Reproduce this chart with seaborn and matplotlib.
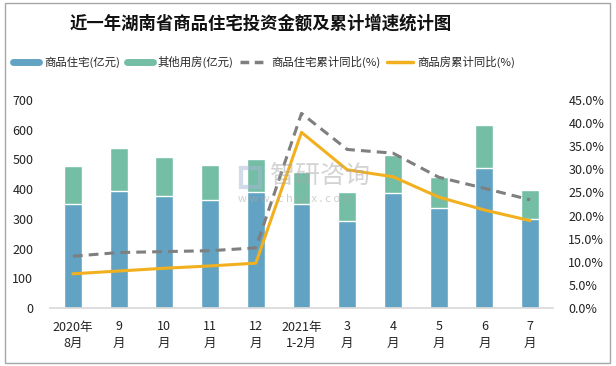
import numpy as np
import pandas as pd
import matplotlib
matplotlib.use("Agg")
import matplotlib.pyplot as plt
from matplotlib.lines import Line2D
from matplotlib.patches import Rectangle
import seaborn as sns

# data
months = ["2020年\n8月", "9\n月", "10\n月", "11\n月", "12\n月", "2021年\n1-2月",
          "3\n月", "4\n月", "5\n月", "6\n月", "7\n月"]
residential = [350, 394, 377, 363, 390, 350, 293, 387, 337, 471, 300]
total = [478, 538, 508, 481, 501, 458, 390, 515, 441, 616, 397]
other = [t - r for t, r in zip(total, residential)]
res_yoy = [11.2, 12.0, 12.2, 12.4, 13.0, 42.1, 34.3, 33.5, 28.3, 25.9, 23.4]
all_yoy = [7.4, 8.0, 8.6, 9.1, 9.7, 38.0, 29.9, 28.4, 24.0, 21.2, 18.9]

df = pd.DataFrame({"month": months, "res": residential, "other": other,
                   "total": total, "res_yoy": res_yoy, "all_yoy": all_yoy,
                   "pos": np.arange(len(months))})

sns.set_theme(style="white")
plt.rcParams["font.family"] = ["Noto Sans CJK SC", "DejaVu Sans"]

BLUE = "#62a3c3"
GREEN = "#74bea6"
GRAY = "#7f7f7f"
GOLD = "#f2b01e"

fig = plt.figure(figsize=(6.16, 3.66), dpi=100)
ax = fig.add_axes([50 / 616, 1 - 308 / 366, 503 / 616, 208 / 366])

# stacked bars: total in green, residential drawn over it
sns.barplot(data=df, x="month", y="total", color=GREEN, width=0.39,
            saturation=1, ax=ax)
sns.barplot(data=df, x="month", y="res", color=BLUE, width=0.39,
            saturation=1, ax=ax)
ax.set_xlim(-0.5, len(months) - 0.5)
ax.set_ylim(0, 700)
ax.set_yticks(range(0, 701, 100))
ax.set_xlabel("")
ax.set_ylabel("")
ax.tick_params(axis="both", labelsize=9, length=0, colors="#222222")
ax.tick_params(axis="x", pad=9)
ax.tick_params(axis="y", pad=12)
for s in ["top", "left", "right"]:
    ax.spines[s].set_visible(False)
ax.spines["bottom"].set_color("#d9d9d9")
for lab in ax.get_xticklabels():
    lab.set_linespacing(1.35)

ax2 = ax.twinx()
sns.lineplot(data=df, x="pos", y="res_yoy", color=GRAY, lw=2.2,
             dashes=False, ax=ax2)
ax2.lines[-1].set_dashes([3.2, 2.0])
sns.lineplot(data=df, x="pos", y="all_yoy", color=GOLD, lw=2.2, ax=ax2)
ax2.set_ylim(0, 45)
ax2.set_yticks(np.arange(0, 46, 5))
ax2.set_yticklabels([f"{v:.1f}%" for v in np.arange(0, 46, 5)])
ax2.set_xlabel("")
ax2.set_ylabel("")
ax2.tick_params(axis="y", labelsize=9, length=0, colors="#222222", pad=11)
for s in ax2.spines.values():
    s.set_visible(False)
ax2.set_xlim(-0.5, len(months) - 0.5)

# watermark
fig.text(270 / 616, 1 - 176 / 366, "智研咨询", fontsize=18, color="#a8a8a8",
         alpha=0.5, ha="left", va="center")
fig.text(238 / 616, 1 - 199 / 366, "w w w . c h y x x . c o m", fontsize=8,
         color="#a8a8a8", alpha=0.55, ha="left", va="center")
fig.patches.append(Rectangle((241 / 616, 1 - 187 / 366), 19 / 616, 19 / 366,
                             transform=fig.transFigure, fill=False,
                             edgecolor="#a9b8d6", lw=3, alpha=0.5))

fig.text(261 / 616, 1 - 24 / 366, "近一年湖南省商品住宅投资金额及累计增速统计图",
         fontsize=12.5, fontweight="bold", ha="center", va="center",
         color="#111111")

handles = [Line2D([], [], color=BLUE, lw=5),
           Line2D([], [], color=GREEN, lw=5),
           Line2D([], [], color=GRAY, lw=2.5, dashes=[2.5, 1.6]),
           Line2D([], [], color=GOLD, lw=2.5)]
labels = ["商品住宅(亿元)", "其他用房(亿元)", "商品住宅累计同比(%)", "商品房累计同比(%)"]
fig.legend(handles, labels, loc="center left", bbox_to_anchor=(3 / 616, 1 - 62 / 366),
           ncol=4, frameon=False, fontsize=8.2, handlelength=2.3,
           columnspacing=0.6, handletextpad=0.4)

fig.patches.append(Rectangle((5 / 616, 3 / 366), 605 / 616, 360 / 366,
                             transform=fig.transFigure, fill=False,
                             edgecolor="#a6a6a6", lw=1))

fig.savefig("out.png", dpi=100)
